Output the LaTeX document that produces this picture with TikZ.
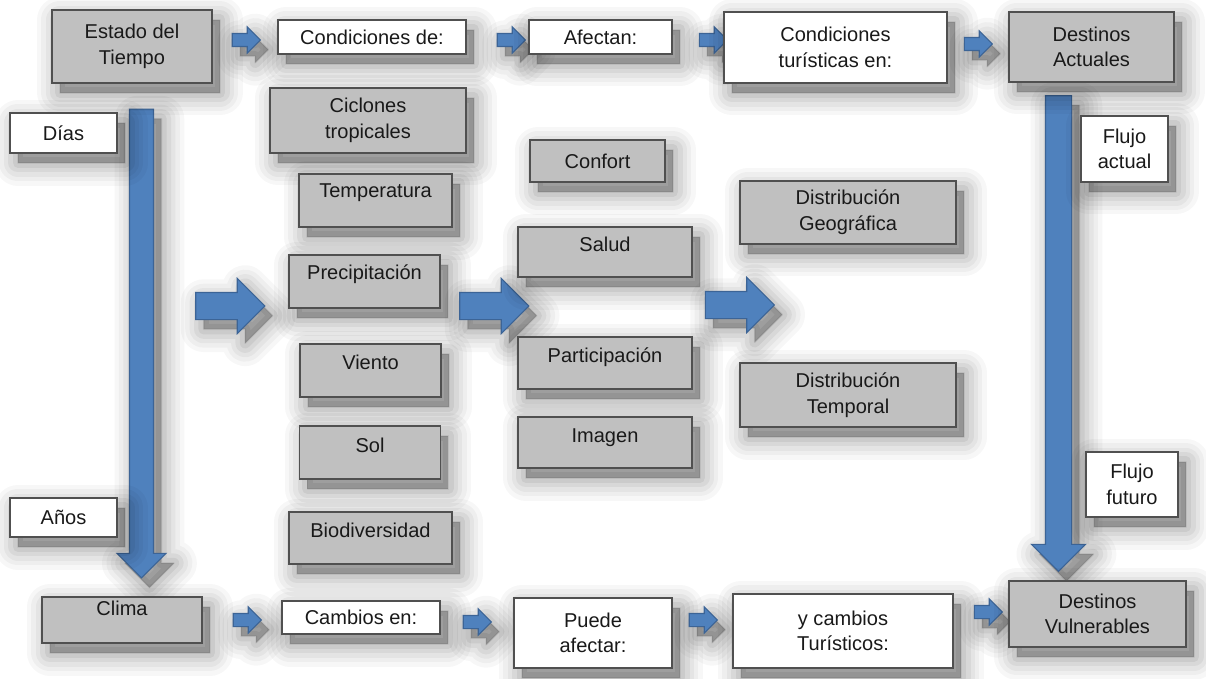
\documentclass[tikz,border=0pt]{standalone}
\usepackage{fontspec}
\setmainfont{Liberation Sans}
\usetikzlibrary{shapes.arrows,positioning}

\definecolor{boxgrey}{RGB}{192,192,192}
\definecolor{boxline}{RGB}{80,80,80}
\definecolor{arrowblue}{RGB}{79,129,189}
\definecolor{arrowline}{RGB}{60,100,150}

\begin{document}
\begin{tikzpicture}[x=0.02cm, y=-0.02cm]

        % Setup the styles for the boxes and the block arrows
        \tikzset{shadow layer/.style 2 args={preaction={draw=black, fill=black,
                                                        line width=#1, line join=round,
                                                        opacity=#2,
                                                        transform canvas={shift={(4.5pt,-5.5pt)}}}},
                 soft shadow/.style={shadow layer={26pt}{0.03},
                                     shadow layer={21pt}{0.035},
                                     shadow layer={16pt}{0.04},
                                     shadow layer={11pt}{0.05},
                                     shadow layer={6pt}{0.06},
                                     shadow layer={1pt}{0.07}},
                 box style/.style={draw=boxline,
                                   line width=0.8pt,
                                   inner sep=0pt,
                                   align=center,
                                   text=black!90,
                                   font=\fontsize{11.4}{14.6}\selectfont,
                                   soft shadow},
                 grey box/.style={box style, fill=boxgrey},
                 white box/.style={box style, fill=white},
                 raised/.style 2 args={text height=#1, text depth=#2},
                 arrow style/.style 2 args={single arrow,
                                            inner xsep=0pt,
                                            inner ysep=#1,
                                            single arrow head extend=#2,
                                            draw=arrowline,
                                            line width=0.6pt,
                                            fill=arrowblue,
                                            soft shadow},
                 small arrow/.style={arrow style={0.12cm}{0.13cm},
                                     minimum height=0.56cm},
                 big arrow/.style={arrow style={0.26cm}{0.28cm},
                                   minimum height=1.38cm}}

        \useasboundingbox (0,0) rectangle (1206,679);
        \fill[white] (0,0) rectangle (1206,679);

        % Draw the long arrows (time)
        \node[arrow style={0.23cm}{0.25cm}, minimum height=9.38cm, rotate=-90] at (141.5, 337.5) (vl) {};
        \node[arrow style={0.25cm}{0.28cm}, minimum height=9.52cm, rotate=-90] at (1058.5, 327) (vr) {};

        % Draw the top row
        \node[grey box, minimum width=3.2cm, minimum height=1.46cm] at (132, 46.5) (edo) {Estado del\\Tiempo};
        \node[small arrow] at (243, 40) (t1) {};
        \node[white box, minimum width=3.76cm, minimum height=0.68cm] at (372, 37) (cond) {Condiciones de:};
        \node[small arrow] at (508, 40) (t2) {};
        \node[white box, minimum width=2.86cm, minimum height=0.68cm] at (600.5, 37) (afe) {Afectan:};
        \node[small arrow] at (710, 40) (t3) {};
        \node[white box, minimum width=4.46cm, minimum height=1.42cm] at (835.5, 47.5) (ctur) {Condiciones\\turísticas en:};
        \node[small arrow] at (975, 44) (t4) {};
        \node[grey box, minimum width=3.3cm, minimum height=1.4cm] at (1091.5, 47) (dact) {Destinos\\Actuales};

        % Draw the labels beside the long arrows
        \node[white box, minimum width=2.14cm, minimum height=0.8cm] at (63.5, 133) (dias) {Días};
        \node[white box, minimum width=2.14cm, minimum height=0.78cm] at (63.5, 517.5) (anos) {Años};
        \node[white box, minimum width=1.74cm, minimum height=1.32cm] at (1124.5, 149) (fact) {Flujo\\actual};
        \node[white box, minimum width=1.84cm, minimum height=1.3cm] at (1132, 484.5) (ffut) {Flujo\\futuro};

        % Draw the weather conditions
        \node[big arrow] at (223.5, 306) (m1) {};
        \node[grey box, minimum width=3.92cm, minimum height=1.3cm] at (368, 120.5) (cicl) {Ciclones\\tropicales};
        \node[grey box, minimum width=3.06cm, raised={0.46cm}{0.6cm}] at (375.5, 200.5) (temp) {Temperatura};
        \node[grey box, minimum width=3.02cm, raised={0.48cm}{0.58cm}] at (364.5, 281.5) (prec) {Precipitación};
        \node[grey box, minimum width=2.82cm, raised={0.5cm}{0.56cm}] at (370.5, 370.5) (vien) {Viento};
        \node[grey box, minimum width=2.82cm, raised={0.52cm}{0.54cm}] at (370, 452.5) (sol) {Sol};
        \node[grey box, minimum width=3.26cm, raised={0.5cm}{0.54cm}] at (370.5, 538) (biod) {Biodiversidad};

        % Draw what they affect
        \node[big arrow] at (487.5, 306) (m2) {};
        \node[grey box, minimum width=2.7cm, minimum height=0.84cm] at (597.5, 161) (conf) {Confort};
        \node[grey box, minimum width=3.48cm, raised={0.48cm}{0.52cm}] at (605, 252) (salu) {Salud};
        \node[grey box, minimum width=3.48cm, raised={0.5cm}{0.54cm}] at (605, 363) (part) {Participación};
        \node[grey box, minimum width=3.48cm, raised={0.5cm}{0.52cm}] at (605, 442.5) (imag) {Imagen};

        % Draw the tourist conditions
        \node[big arrow] at (733, 305) (m3) {};
        \node[grey box, minimum width=4.32cm, minimum height=1.26cm] at (848, 212.5) (dgeo) {Distribución\\Geográfica};
        \node[grey box, minimum width=4.32cm, minimum height=1.28cm] at (848, 395) (dtem) {Distribución\\Temporal};

        % Draw the bottom row
        \node[grey box, minimum width=3.2cm, raised={0.36cm}{0.56cm}] at (122, 620) (clim) {Clima};
        \node[small arrow] at (244, 620) (b1) {};
        \node[white box, minimum width=3.16cm, minimum height=0.66cm] at (361, 617.5) (camb) {Cambios en:};
        \node[small arrow] at (474, 622) (b2) {};
        \node[white box, minimum width=3.16cm, minimum height=1.4cm] at (593, 633) (pued) {Puede\\afectar:};
        \node[small arrow] at (700, 620) (b3) {};
        \node[white box, minimum width=4.4cm, minimum height=1.48cm] at (843, 631) (ycam) {y cambios\\Turísticos:};
        \node[small arrow] at (985, 612) (b4) {};
        \node[grey box, minimum width=3.54cm, minimum height=1.32cm] at (1097.5, 614) (dvul) {Destinos\\Vulnerables};
\end{tikzpicture}
\end{document}
